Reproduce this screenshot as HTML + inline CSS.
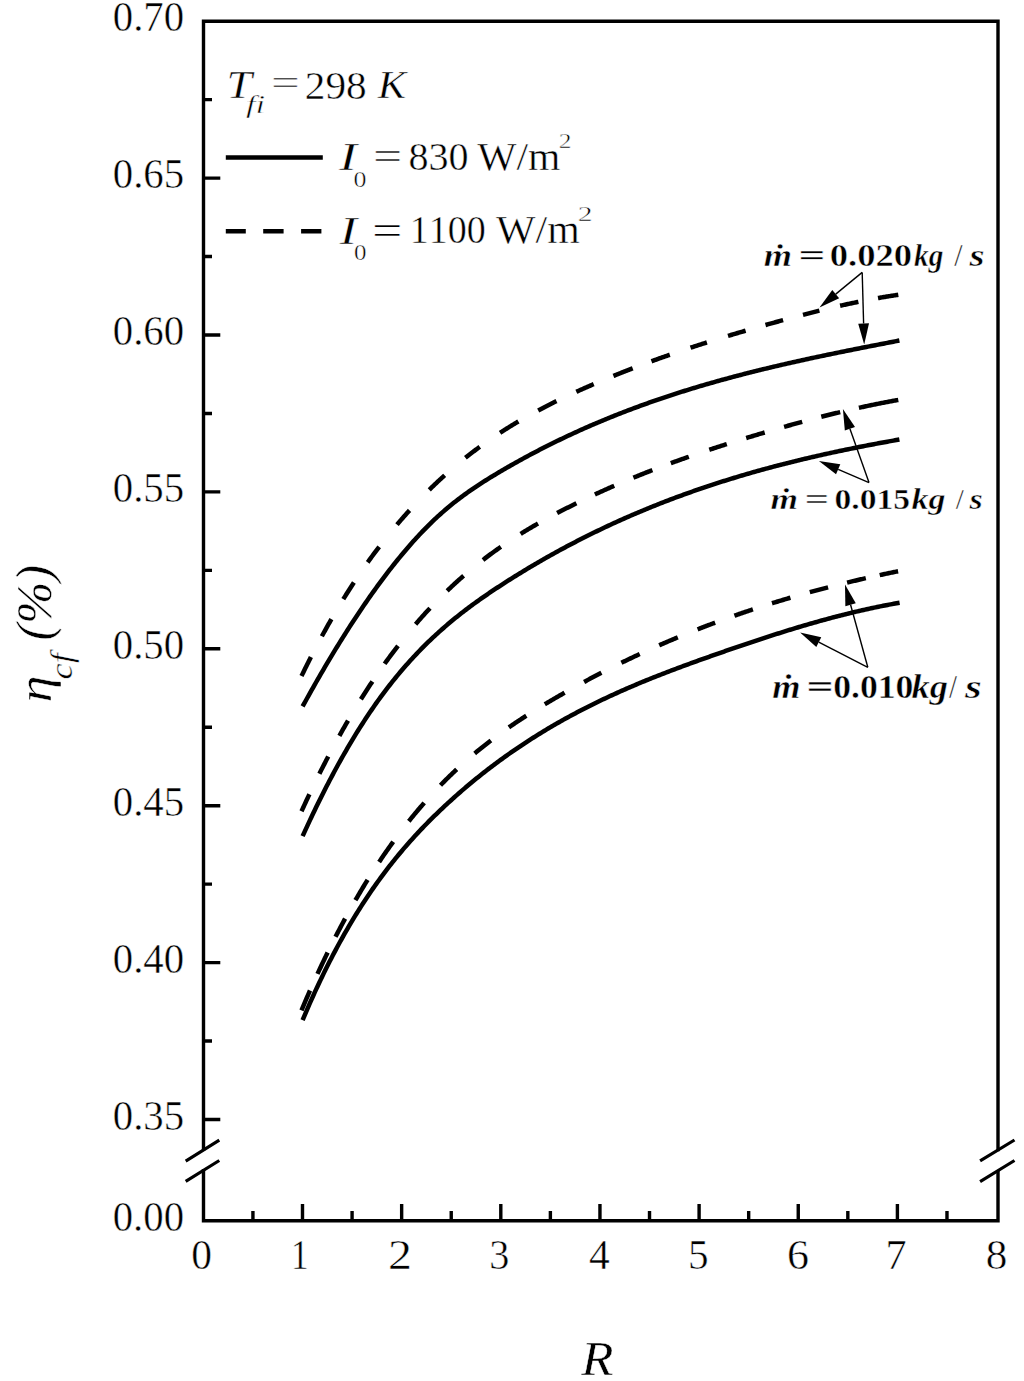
<!DOCTYPE html>
<html><head><meta charset="utf-8"><style>
html,body{margin:0;padding:0;background:#fff;}
svg{display:block;}
text{font-family:"Liberation Serif",serif;fill:#000;font-kerning:none;stroke:#fff;stroke-width:0.45px;}
.t40{font-size:40px;}
.ttl{font-size:49px;}
.ann{font-size:33px;font-weight:bold;}
.ax{fill:none;stroke:#000;stroke-width:3.4;stroke-linecap:square;}
.tk{fill:none;stroke:#000;stroke-width:3.4;}
.br{fill:none;stroke:#000;stroke-width:3.2;}
.c{fill:none;stroke:#000;stroke-width:4.5;stroke-linejoin:round;}
.thin{fill:none;stroke:#000;stroke-width:1.4;}
.ah{fill:#000;stroke:none;}
</style></head><body>
<svg width="1024" height="1381" viewBox="0 0 1024 1381">
<rect width="1024" height="1381" fill="#fff"/>
<path class="ax" d="M203.5,1149 L203.5,21.2 L998.0,21.2 L998.0,1149.6"/>
<path class="ax" d="M203.5,1170.8 L203.5,1220.7 L998.0,1220.7 L998.0,1172"/>
<path class="br" d="M185.7,1161.1 L219.3,1140.1 M185.7,1181.4 L219.3,1160.5 M980.1,1160.9 L1014.5,1140 M980.1,1181.7 L1014.5,1160.5"/>
<path class="tk" d="M203.5,99.65 L212,99.65 M203.5,178.10 L220.3,178.10 M203.5,256.55 L212,256.55 M203.5,335.00 L220.3,335.00 M203.5,413.45 L212,413.45 M203.5,491.90 L220.3,491.90 M203.5,570.35 L212,570.35 M203.5,648.80 L220.3,648.80 M203.5,727.25 L212,727.25 M203.5,805.70 L220.3,805.70 M203.5,884.15 L212,884.15 M203.5,962.60 L220.3,962.60 M203.5,1041.05 L212,1041.05 M203.5,1119.50 L220.3,1119.50 M302.50,1220.7 L302.50,1204 M401.65,1220.7 L401.65,1204 M500.80,1220.7 L500.80,1204 M599.95,1220.7 L599.95,1204 M699.10,1220.7 L699.10,1204 M798.25,1220.7 L798.25,1204 M897.40,1220.7 L897.40,1204 M252.93,1220.7 L252.93,1211 M352.08,1220.7 L352.08,1211 M451.23,1220.7 L451.23,1211 M550.38,1220.7 L550.38,1211 M649.52,1220.7 L649.52,1211 M748.68,1220.7 L748.68,1211 M847.83,1220.7 L847.83,1211 M946.98,1220.7 L946.98,1211"/>
<text x="112.75" y="0" transform="translate(0,31.30) scale(1,1.02)" font-size="40.80" textLength="71.41" lengthAdjust="spacingAndGlyphs">0.70</text>
<text x="112.75" y="0" transform="translate(0,188.20) scale(1,1.02)" font-size="40.80" textLength="71.45" lengthAdjust="spacingAndGlyphs">0.65</text>
<text x="112.75" y="0" transform="translate(0,345.10) scale(1,1.02)" font-size="40.80" textLength="71.41" lengthAdjust="spacingAndGlyphs">0.60</text>
<text x="112.75" y="0" transform="translate(0,502.00) scale(1,1.02)" font-size="40.80" textLength="71.45" lengthAdjust="spacingAndGlyphs">0.55</text>
<text x="112.75" y="0" transform="translate(0,658.90) scale(1,1.02)" font-size="40.80" textLength="71.41" lengthAdjust="spacingAndGlyphs">0.50</text>
<text x="112.75" y="0" transform="translate(0,815.80) scale(1,1.02)" font-size="40.80" textLength="71.45" lengthAdjust="spacingAndGlyphs">0.45</text>
<text x="112.75" y="0" transform="translate(0,972.70) scale(1,1.02)" font-size="40.80" textLength="71.41" lengthAdjust="spacingAndGlyphs">0.40</text>
<text x="112.75" y="0" transform="translate(0,1129.60) scale(1,1.02)" font-size="40.80" textLength="71.45" lengthAdjust="spacingAndGlyphs">0.35</text>
<text x="112.75" y="0" transform="translate(0,1230.90) scale(1,1.02)" font-size="40.80" textLength="71.30" lengthAdjust="spacingAndGlyphs">0.00</text>
<text x="191.32" y="0" transform="translate(0,1268.60) scale(1,1.05)" font-size="40.40" textLength="20.76" lengthAdjust="spacingAndGlyphs">0</text>
<text x="291.10" y="0" transform="translate(0,1268.60) scale(1,1.05)" font-size="40.40" textLength="17.61" lengthAdjust="spacingAndGlyphs">1</text>
<text x="387.90" y="0" transform="translate(0,1268.60) scale(1,1.05)" font-size="40.40" textLength="23.95" lengthAdjust="spacingAndGlyphs">2</text>
<text x="489.28" y="0" transform="translate(0,1268.60) scale(1,1.05)" font-size="40.40" textLength="20.09" lengthAdjust="spacingAndGlyphs">3</text>
<text x="588.99" y="0" transform="translate(0,1268.60) scale(1,1.05)" font-size="40.40" textLength="20.76" lengthAdjust="spacingAndGlyphs">4</text>
<text x="688.01" y="0" transform="translate(0,1268.60) scale(1,1.05)" font-size="40.40" textLength="20.60" lengthAdjust="spacingAndGlyphs">5</text>
<text x="787.11" y="0" transform="translate(0,1268.60) scale(1,1.05)" font-size="40.40" textLength="22.00" lengthAdjust="spacingAndGlyphs">6</text>
<text x="885.62" y="0" transform="translate(0,1268.60) scale(1,1.05)" font-size="40.40" textLength="21.10" lengthAdjust="spacingAndGlyphs">7</text>
<text x="985.66" y="0" transform="translate(0,1268.60) scale(1,1.05)" font-size="40.40" textLength="21.59" lengthAdjust="spacingAndGlyphs">8</text>
<text x="581.28" y="1375.20" font-size="49.50" font-style="italic" textLength="32.29" lengthAdjust="spacingAndGlyphs">R</text>
<g transform="translate(51.4,720.0) rotate(-90)"><text x="17.46" y="0.00" font-size="49.00" font-style="italic" textLength="27.00" lengthAdjust="spacingAndGlyphs">η</text><text x="40.58" y="20.20" font-size="31.40" font-style="italic" textLength="26.23" lengthAdjust="spacingAndGlyphs">cf</text><text x="79.53" y="0.00" font-size="50.90" font-style="italic" textLength="75.52" lengthAdjust="spacingAndGlyphs">(%)</text></g>
<text x="226.61" y="98.00" font-size="40.50" font-style="italic" textLength="25.39" lengthAdjust="spacingAndGlyphs">T</text>
<text x="245.91" y="113.30" font-size="24.30" font-style="italic" textLength="19.13" lengthAdjust="spacingAndGlyphs">fi</text>
<text x="271.05" y="95.40" font-size="36.80" textLength="28.84" lengthAdjust="spacingAndGlyphs" stroke="none">=</text>
<text x="304.79" y="98.60" font-size="40.70" textLength="61.88" lengthAdjust="spacingAndGlyphs">298</text>
<text x="377.70" y="98.00" font-size="40.50" font-style="italic" textLength="28.28" lengthAdjust="spacingAndGlyphs">K</text>
<path class="c" d="M225.8,157.4 L322.8,157.4"/>
<path class="c" d="M225.8,231.3 L245.8,231.3 M263.2,231.3 L283.6,231.3 M301.1,231.3 L321.4,231.3"/>
<text x="339.11" y="170.10" font-size="39.80" font-style="italic" textLength="17.98" lengthAdjust="spacingAndGlyphs">I</text>
<text x="353.61" y="186.90" font-size="22.50" textLength="12.98" lengthAdjust="spacingAndGlyphs">0</text>
<text x="373.12" y="170.10" font-size="40.40" textLength="29.21" lengthAdjust="spacingAndGlyphs" stroke="none">=</text>
<text x="408.47" y="170.20" font-size="39.40" textLength="60.15" lengthAdjust="spacingAndGlyphs">830</text>
<text x="477.26" y="170.20" font-size="39.40" textLength="83.19" lengthAdjust="spacingAndGlyphs">W/m</text>
<text x="558.68" y="147.80" font-size="21.10" textLength="12.72" lengthAdjust="spacingAndGlyphs">2</text>
<text x="339.41" y="243.50" font-size="40.30" font-style="italic" textLength="17.54" lengthAdjust="spacingAndGlyphs">I</text>
<text x="354.05" y="260.40" font-size="23.40" textLength="12.51" lengthAdjust="spacingAndGlyphs">0</text>
<text x="372.11" y="244.40" font-size="42.40" textLength="30.42" lengthAdjust="spacingAndGlyphs" stroke="none">=</text>
<text x="409.66" y="243.40" font-size="39.10" textLength="75.99" lengthAdjust="spacingAndGlyphs">1100</text>
<text x="496.06" y="243.40" font-size="39.10" textLength="83.69" lengthAdjust="spacingAndGlyphs">W/m</text>
<text x="577.80" y="221.10" font-size="21.90" textLength="14.84" lengthAdjust="spacingAndGlyphs">2</text>
<path d="M302.60,706.43 L304.10,703.70 L305.60,700.97 L307.10,698.26 L308.60,695.56 L310.10,692.87 L311.60,690.20 L313.10,687.54 L314.60,684.89 L316.10,682.25 L317.59,679.63 L319.09,677.02 L320.59,674.43 L322.09,671.84 L323.59,669.27 L325.09,666.72 L326.59,664.17 L328.09,661.64 L329.59,659.13 L331.09,656.62 L332.59,654.13 L334.09,651.66 L335.59,649.19 L337.09,646.74 L338.59,644.31 L340.09,641.89 L341.59,639.48 L343.09,637.08 L344.59,634.70 L346.09,632.34 L347.58,629.99 L349.08,627.65 L350.58,625.32 L352.08,623.01 L353.58,620.71 L355.08,618.43 L356.58,616.16 L358.08,613.91 L359.58,611.67 L361.08,609.45 L362.58,607.24 L364.08,605.04 L365.58,602.86 L367.08,600.69 L368.58,598.54 L370.08,596.40 L371.58,594.28 L373.08,592.17 L374.58,590.08 L376.08,588.00 L377.57,585.93 L379.07,583.89 L380.57,581.85 L382.07,579.83 L383.57,577.83 L385.07,575.84 L386.57,573.87 L388.07,571.91 L389.57,569.97 L391.07,568.04 L392.57,566.13 L394.07,564.24 L395.57,562.36 L397.07,560.50 L398.57,558.65 L400.07,556.82 L401.57,555.01 L403.07,553.21 L404.57,551.43 L406.07,549.67 L407.56,547.93 L409.06,546.20 L410.56,544.48 L412.06,542.79 L413.56,541.11 L415.06,539.45 L416.56,537.81 L418.06,536.18 L419.56,534.57 L421.06,532.98 L422.56,531.41 L424.06,529.86 L425.56,528.32 L427.06,526.80 L428.56,525.30 L430.06,523.82 L431.56,522.36 L433.06,520.91 L434.56,519.48 L436.06,518.08 L437.55,516.69 L439.05,515.32 L440.55,513.97 L442.05,512.64 L443.55,511.32 L445.05,510.03 L446.55,508.75 L448.05,507.49 L449.55,506.24 L451.05,505.02 L452.55,503.80 L454.05,502.61 L455.55,501.43 L457.05,500.26 L458.55,499.11 L460.05,497.98 L461.55,496.86 L463.05,495.75 L464.55,494.65 L466.05,493.57 L467.54,492.50 L469.04,491.44 L470.54,490.40 L472.04,489.36 L473.54,488.34 L475.04,487.33 L476.54,486.32 L478.04,485.33 L479.54,484.35 L481.04,483.38 L482.54,482.41 L484.04,481.46 L485.54,480.51 L487.04,479.57 L488.54,478.64 L490.04,477.71 L491.54,476.79 L493.04,475.88 L494.54,474.98 L496.04,474.08 L497.53,473.18 L499.03,472.29 L500.53,471.41 L502.03,470.52 L503.53,469.65 L505.03,468.78 L506.53,467.91 L508.03,467.04 L509.53,466.18 L511.03,465.33 L512.53,464.48 L514.03,463.63 L515.53,462.79 L517.03,461.95 L518.53,461.12 L520.03,460.29 L521.53,459.46 L523.03,458.64 L524.53,457.82 L526.03,457.01 L527.52,456.20 L529.02,455.39 L530.52,454.59 L532.02,453.79 L533.52,453.00 L535.02,452.21 L536.52,451.43 L538.02,450.65 L539.52,449.87 L541.02,449.10 L542.52,448.33 L544.02,447.56 L545.52,446.80 L547.02,446.04 L548.52,445.29 L550.02,444.54 L551.52,443.79 L553.02,443.05 L554.52,442.31 L556.02,441.58 L557.51,440.84 L559.01,440.12 L560.51,439.39 L562.01,438.67 L563.51,437.96 L565.01,437.24 L566.51,436.54 L568.01,435.83 L569.51,435.13 L571.01,434.43 L572.51,433.74 L574.01,433.05 L575.51,432.36 L577.01,431.68 L578.51,431.00 L580.01,430.32 L581.51,429.65 L583.01,428.98 L584.51,428.31 L586.01,427.65 L587.50,426.99 L589.00,426.33 L590.50,425.68 L592.00,425.03 L593.50,424.39 L595.00,423.74 L596.50,423.11 L598.00,422.47 L599.50,421.84 L601.00,421.21 L602.50,420.58 L604.00,419.96 L605.50,419.34 L607.00,418.73 L608.50,418.11 L610.00,417.51 L611.50,416.90 L613.00,416.30 L614.50,415.70 L615.99,415.10 L617.49,414.51 L618.99,413.92 L620.49,413.33 L621.99,412.74 L623.49,412.16 L624.99,411.58 L626.49,411.01 L627.99,410.44 L629.49,409.87 L630.99,409.30 L632.49,408.74 L633.99,408.18 L635.49,407.62 L636.99,407.07 L638.49,406.52 L639.99,405.97 L641.49,405.42 L642.99,404.88 L644.49,404.34 L645.98,403.80 L647.48,403.27 L648.98,402.74 L650.48,402.21 L651.98,401.68 L653.48,401.16 L654.98,400.64 L656.48,400.12 L657.98,399.60 L659.48,399.09 L660.98,398.58 L662.48,398.07 L663.98,397.57 L665.48,397.07 L666.98,396.57 L668.48,396.07 L669.98,395.58 L671.48,395.09 L672.98,394.60 L674.48,394.11 L675.97,393.63 L677.47,393.15 L678.97,392.67 L680.47,392.19 L681.97,391.72 L683.47,391.24 L684.97,390.77 L686.47,390.31 L687.97,389.84 L689.47,389.38 L690.97,388.92 L692.47,388.46 L693.97,388.01 L695.47,387.56 L696.97,387.10 L698.47,386.66 L699.97,386.21 L701.47,385.77 L702.97,385.32 L704.47,384.89 L705.96,384.45 L707.46,384.01 L708.96,383.58 L710.46,383.15 L711.96,382.72 L713.46,382.29 L714.96,381.87 L716.46,381.45 L717.96,381.03 L719.46,380.61 L720.96,380.19 L722.46,379.78 L723.96,379.37 L725.46,378.96 L726.96,378.55 L728.46,378.14 L729.96,377.74 L731.46,377.33 L732.96,376.93 L734.46,376.53 L735.95,376.14 L737.45,375.74 L738.95,375.35 L740.45,374.96 L741.95,374.57 L743.45,374.18 L744.95,373.79 L746.45,373.41 L747.95,373.03 L749.45,372.65 L750.95,372.27 L752.45,371.89 L753.95,371.51 L755.45,371.14 L756.95,370.77 L758.45,370.40 L759.95,370.03 L761.45,369.66 L762.95,369.29 L764.45,368.93 L765.94,368.57 L767.44,368.20 L768.94,367.85 L770.44,367.49 L771.94,367.13 L773.44,366.77 L774.94,366.42 L776.44,366.07 L777.94,365.72 L779.44,365.37 L780.94,365.02 L782.44,364.67 L783.94,364.33 L785.44,363.98 L786.94,363.64 L788.44,363.30 L789.94,362.96 L791.44,362.62 L792.94,362.28 L794.44,361.94 L795.93,361.61 L797.43,361.27 L798.93,360.94 L800.43,360.61 L801.93,360.28 L803.43,359.95 L804.93,359.62 L806.43,359.29 L807.93,358.97 L809.43,358.64 L810.93,358.32 L812.43,358.00 L813.93,357.67 L815.43,357.35 L816.93,357.03 L818.43,356.72 L819.93,356.40 L821.43,356.08 L822.93,355.77 L824.43,355.45 L825.92,355.14 L827.42,354.82 L828.92,354.51 L830.42,354.20 L831.92,353.89 L833.42,353.58 L834.92,353.27 L836.42,352.96 L837.92,352.65 L839.42,352.35 L840.92,352.04 L842.42,351.74 L843.92,351.43 L845.42,351.13 L846.92,350.83 L848.42,350.52 L849.92,350.22 L851.42,349.92 L852.92,349.62 L854.42,349.32 L855.91,349.02 L857.41,348.72 L858.91,348.42 L860.41,348.13 L861.91,347.83 L863.41,347.53 L864.91,347.24 L866.41,346.94 L867.91,346.65 L869.41,346.35 L870.91,346.06 L872.41,345.76 L873.91,345.47 L875.41,345.18 L876.91,344.89 L878.41,344.59 L879.91,344.30 L881.41,344.01 L882.91,343.72 L884.41,343.43 L885.90,343.14 L887.40,342.85 L888.90,342.56 L890.40,342.27 L891.90,341.98 L893.40,341.69 L894.90,341.40 L896.40,341.11 L897.90,340.82 L899.40,340.53" class="c"/>
<path d="M302.60,836.19 L304.10,832.89 L305.60,829.60 L307.10,826.35 L308.60,823.12 L310.10,819.91 L311.60,816.73 L313.10,813.58 L314.60,810.45 L316.10,807.34 L317.59,804.27 L319.09,801.21 L320.59,798.18 L322.09,795.18 L323.59,792.20 L325.09,789.25 L326.59,786.32 L328.09,783.42 L329.59,780.54 L331.09,777.69 L332.59,774.86 L334.09,772.06 L335.59,769.28 L337.09,766.52 L338.59,763.79 L340.09,761.09 L341.59,758.41 L343.09,755.75 L344.59,753.12 L346.09,750.51 L347.58,747.93 L349.08,745.37 L350.58,742.83 L352.08,740.32 L353.58,737.84 L355.08,735.38 L356.58,732.94 L358.08,730.52 L359.58,728.13 L361.08,725.77 L362.58,723.43 L364.08,721.11 L365.58,718.81 L367.08,716.54 L368.58,714.29 L370.08,712.07 L371.58,709.87 L373.08,707.69 L374.58,705.54 L376.08,703.41 L377.57,701.30 L379.07,699.22 L380.57,697.16 L382.07,695.12 L383.57,693.10 L385.07,691.10 L386.57,689.13 L388.07,687.18 L389.57,685.25 L391.07,683.34 L392.57,681.45 L394.07,679.58 L395.57,677.73 L397.07,675.90 L398.57,674.09 L400.07,672.30 L401.57,670.53 L403.07,668.78 L404.57,667.05 L406.07,665.33 L407.56,663.64 L409.06,661.96 L410.56,660.30 L412.06,658.66 L413.56,657.04 L415.06,655.43 L416.56,653.84 L418.06,652.27 L419.56,650.72 L421.06,649.18 L422.56,647.66 L424.06,646.15 L425.56,644.66 L427.06,643.19 L428.56,641.73 L430.06,640.29 L431.56,638.86 L433.06,637.44 L434.56,636.05 L436.06,634.66 L437.55,633.29 L439.05,631.93 L440.55,630.59 L442.05,629.26 L443.55,627.94 L445.05,626.64 L446.55,625.35 L448.05,624.07 L449.55,622.81 L451.05,621.55 L452.55,620.31 L454.05,619.08 L455.55,617.86 L457.05,616.65 L458.55,615.46 L460.05,614.27 L461.55,613.10 L463.05,611.93 L464.55,610.78 L466.05,609.63 L467.54,608.50 L469.04,607.37 L470.54,606.26 L472.04,605.15 L473.54,604.05 L475.04,602.96 L476.54,601.88 L478.04,600.81 L479.54,599.74 L481.04,598.68 L482.54,597.63 L484.04,596.59 L485.54,595.56 L487.04,594.53 L488.54,593.50 L490.04,592.49 L491.54,591.48 L493.04,590.48 L494.54,589.48 L496.04,588.48 L497.53,587.50 L499.03,586.52 L500.53,585.54 L502.03,584.57 L503.53,583.60 L505.03,582.63 L506.53,581.67 L508.03,580.72 L509.53,579.77 L511.03,578.82 L512.53,577.88 L514.03,576.94 L515.53,576.00 L517.03,575.07 L518.53,574.15 L520.03,573.22 L521.53,572.31 L523.03,571.39 L524.53,570.48 L526.03,569.58 L527.52,568.67 L529.02,567.78 L530.52,566.88 L532.02,565.99 L533.52,565.11 L535.02,564.22 L536.52,563.35 L538.02,562.47 L539.52,561.60 L541.02,560.74 L542.52,559.87 L544.02,559.02 L545.52,558.16 L547.02,557.31 L548.52,556.47 L550.02,555.62 L551.52,554.78 L553.02,553.95 L554.52,553.12 L556.02,552.29 L557.51,551.47 L559.01,550.65 L560.51,549.83 L562.01,549.02 L563.51,548.21 L565.01,547.41 L566.51,546.61 L568.01,545.81 L569.51,545.02 L571.01,544.23 L572.51,543.44 L574.01,542.66 L575.51,541.88 L577.01,541.11 L578.51,540.33 L580.01,539.57 L581.51,538.80 L583.01,538.04 L584.51,537.29 L586.01,536.53 L587.50,535.78 L589.00,535.04 L590.50,534.30 L592.00,533.56 L593.50,532.82 L595.00,532.09 L596.50,531.36 L598.00,530.64 L599.50,529.91 L601.00,529.20 L602.50,528.48 L604.00,527.77 L605.50,527.06 L607.00,526.36 L608.50,525.66 L610.00,524.96 L611.50,524.27 L613.00,523.58 L614.50,522.89 L615.99,522.21 L617.49,521.53 L618.99,520.85 L620.49,520.17 L621.99,519.50 L623.49,518.84 L624.99,518.17 L626.49,517.51 L627.99,516.86 L629.49,516.20 L630.99,515.55 L632.49,514.90 L633.99,514.26 L635.49,513.62 L636.99,512.98 L638.49,512.34 L639.99,511.71 L641.49,511.08 L642.99,510.46 L644.49,509.83 L645.98,509.22 L647.48,508.60 L648.98,507.99 L650.48,507.38 L651.98,506.77 L653.48,506.17 L654.98,505.56 L656.48,504.97 L657.98,504.37 L659.48,503.78 L660.98,503.19 L662.48,502.61 L663.98,502.02 L665.48,501.44 L666.98,500.87 L668.48,500.29 L669.98,499.72 L671.48,499.15 L672.98,498.59 L674.48,498.02 L675.97,497.47 L677.47,496.91 L678.97,496.35 L680.47,495.80 L681.97,495.26 L683.47,494.71 L684.97,494.17 L686.47,493.63 L687.97,493.09 L689.47,492.56 L690.97,492.03 L692.47,491.50 L693.97,490.97 L695.47,490.45 L696.97,489.93 L698.47,489.41 L699.97,488.89 L701.47,488.38 L702.97,487.87 L704.47,487.36 L705.96,486.86 L707.46,486.36 L708.96,485.86 L710.46,485.36 L711.96,484.87 L713.46,484.38 L714.96,483.89 L716.46,483.40 L717.96,482.92 L719.46,482.44 L720.96,481.96 L722.46,481.48 L723.96,481.01 L725.46,480.54 L726.96,480.07 L728.46,479.60 L729.96,479.14 L731.46,478.67 L732.96,478.22 L734.46,477.76 L735.95,477.30 L737.45,476.85 L738.95,476.40 L740.45,475.96 L741.95,475.51 L743.45,475.07 L744.95,474.63 L746.45,474.19 L747.95,473.76 L749.45,473.32 L750.95,472.89 L752.45,472.46 L753.95,472.04 L755.45,471.61 L756.95,471.19 L758.45,470.77 L759.95,470.35 L761.45,469.94 L762.95,469.52 L764.45,469.11 L765.94,468.70 L767.44,468.30 L768.94,467.89 L770.44,467.49 L771.94,467.09 L773.44,466.69 L774.94,466.30 L776.44,465.90 L777.94,465.51 L779.44,465.12 L780.94,464.73 L782.44,464.35 L783.94,463.96 L785.44,463.58 L786.94,463.20 L788.44,462.82 L789.94,462.45 L791.44,462.07 L792.94,461.70 L794.44,461.33 L795.93,460.96 L797.43,460.60 L798.93,460.23 L800.43,459.87 L801.93,459.51 L803.43,459.15 L804.93,458.79 L806.43,458.44 L807.93,458.09 L809.43,457.73 L810.93,457.39 L812.43,457.04 L813.93,456.69 L815.43,456.35 L816.93,456.00 L818.43,455.66 L819.93,455.32 L821.43,454.99 L822.93,454.65 L824.43,454.32 L825.92,453.99 L827.42,453.66 L828.92,453.33 L830.42,453.00 L831.92,452.67 L833.42,452.35 L834.92,452.03 L836.42,451.71 L837.92,451.39 L839.42,451.07 L840.92,450.75 L842.42,450.44 L843.92,450.13 L845.42,449.82 L846.92,449.51 L848.42,449.20 L849.92,448.89 L851.42,448.59 L852.92,448.28 L854.42,447.98 L855.91,447.68 L857.41,447.38 L858.91,447.08 L860.41,446.78 L861.91,446.49 L863.41,446.19 L864.91,445.90 L866.41,445.61 L867.91,445.32 L869.41,445.03 L870.91,444.74 L872.41,444.46 L873.91,444.17 L875.41,443.89 L876.91,443.61 L878.41,443.33 L879.91,443.05 L881.41,442.77 L882.91,442.49 L884.41,442.22 L885.90,441.94 L887.40,441.67 L888.90,441.40 L890.40,441.13 L891.90,440.86 L893.40,440.59 L894.90,440.32 L896.40,440.05 L897.90,439.79 L899.40,439.52" class="c"/>
<path d="M302.60,1020.12 L304.10,1016.56 L305.60,1013.04 L307.10,1009.55 L308.60,1006.11 L310.10,1002.70 L311.60,999.33 L313.10,995.99 L314.60,992.69 L316.10,989.43 L317.60,986.20 L319.10,983.01 L320.60,979.85 L322.10,976.72 L323.60,973.63 L325.10,970.57 L326.60,967.55 L328.10,964.56 L329.60,961.60 L331.10,958.68 L332.60,955.78 L334.10,952.92 L335.60,950.09 L337.10,947.29 L338.60,944.51 L340.10,941.77 L341.60,939.06 L343.10,936.38 L344.60,933.73 L346.10,931.11 L347.60,928.51 L349.10,925.94 L350.60,923.40 L352.10,920.89 L353.60,918.41 L355.10,915.95 L356.60,913.52 L358.10,911.11 L359.60,908.73 L361.10,906.37 L362.60,904.04 L364.10,901.74 L365.60,899.45 L367.10,897.20 L368.60,894.96 L370.10,892.75 L371.60,890.56 L373.10,888.39 L374.60,886.25 L376.10,884.13 L377.60,882.03 L379.10,879.95 L380.60,877.89 L382.10,875.86 L383.60,873.84 L385.10,871.85 L386.60,869.88 L388.10,867.92 L389.60,865.99 L391.10,864.07 L392.60,862.18 L394.10,860.30 L395.60,858.44 L397.10,856.60 L398.60,854.78 L400.10,852.97 L401.60,851.19 L403.10,849.42 L404.60,847.66 L406.10,845.93 L407.60,844.21 L409.10,842.50 L410.60,840.81 L412.10,839.14 L413.60,837.48 L415.10,835.84 L416.60,834.21 L418.10,832.60 L419.60,831.00 L421.10,829.42 L422.60,827.84 L424.10,826.29 L425.60,824.74 L427.10,823.21 L428.60,821.69 L430.10,820.18 L431.60,818.69 L433.10,817.20 L434.60,815.73 L436.10,814.27 L437.60,812.82 L439.10,811.38 L440.60,809.95 L442.10,808.53 L443.60,807.12 L445.10,805.72 L446.60,804.33 L448.10,802.95 L449.60,801.57 L451.10,800.21 L452.60,798.85 L454.10,797.51 L455.60,796.17 L457.10,794.85 L458.60,793.53 L460.10,792.22 L461.60,790.91 L463.10,789.62 L464.60,788.34 L466.10,787.06 L467.60,785.79 L469.10,784.54 L470.60,783.29 L472.10,782.04 L473.60,780.81 L475.10,779.58 L476.60,778.36 L478.10,777.15 L479.60,775.95 L481.10,774.76 L482.60,773.57 L484.10,772.39 L485.60,771.22 L487.10,770.06 L488.60,768.90 L490.10,767.75 L491.60,766.61 L493.10,765.48 L494.60,764.35 L496.10,763.23 L497.60,762.12 L499.10,761.01 L500.60,759.92 L502.10,758.83 L503.60,757.74 L505.10,756.67 L506.60,755.60 L508.10,754.53 L509.60,753.48 L511.10,752.43 L512.60,751.39 L514.10,750.35 L515.60,749.32 L517.10,748.30 L518.60,747.28 L520.10,746.27 L521.60,745.27 L523.10,744.27 L524.60,743.28 L526.10,742.30 L527.60,741.32 L529.10,740.35 L530.60,739.39 L532.10,738.43 L533.60,737.48 L535.10,736.53 L536.60,735.59 L538.10,734.66 L539.60,733.73 L541.10,732.81 L542.60,731.89 L544.10,730.98 L545.60,730.08 L547.10,729.18 L548.60,728.28 L550.10,727.40 L551.60,726.51 L553.10,725.64 L554.60,724.77 L556.10,723.90 L557.60,723.04 L559.10,722.19 L560.60,721.34 L562.10,720.50 L563.60,719.66 L565.10,718.83 L566.60,718.00 L568.10,717.18 L569.60,716.36 L571.10,715.55 L572.60,714.74 L574.10,713.94 L575.60,713.14 L577.10,712.35 L578.60,711.56 L580.10,710.78 L581.60,710.00 L583.10,709.23 L584.60,708.46 L586.10,707.69 L587.60,706.93 L589.10,706.18 L590.60,705.43 L592.10,704.68 L593.60,703.94 L595.10,703.21 L596.60,702.47 L598.10,701.74 L599.60,701.02 L601.10,700.30 L602.60,699.58 L604.10,698.87 L605.60,698.17 L607.10,697.46 L608.60,696.76 L610.10,696.07 L611.60,695.38 L613.10,694.69 L614.60,694.01 L616.10,693.33 L617.60,692.65 L619.10,691.98 L620.60,691.31 L622.10,690.64 L623.60,689.98 L625.10,689.32 L626.60,688.67 L628.10,688.02 L629.60,687.37 L631.10,686.72 L632.60,686.08 L634.10,685.45 L635.60,684.81 L637.10,684.18 L638.60,683.55 L640.10,682.93 L641.60,682.30 L643.10,681.68 L644.60,681.07 L646.10,680.45 L647.60,679.84 L649.10,679.24 L650.60,678.63 L652.10,678.03 L653.60,677.43 L655.10,676.83 L656.60,676.24 L658.10,675.65 L659.60,675.06 L661.10,674.47 L662.60,673.89 L664.10,673.31 L665.60,672.73 L667.10,672.15 L668.60,671.57 L670.10,671.00 L671.60,670.43 L673.10,669.86 L674.60,669.30 L676.10,668.73 L677.60,668.17 L679.10,667.61 L680.60,667.05 L682.10,666.50 L683.60,665.94 L685.10,665.39 L686.60,664.84 L688.10,664.29 L689.60,663.74 L691.10,663.20 L692.60,662.65 L694.10,662.11 L695.60,661.57 L697.10,661.03 L698.60,660.49 L700.10,659.95 L701.60,659.42 L703.10,658.88 L704.60,658.35 L706.10,657.82 L707.60,657.29 L709.10,656.76 L710.60,656.23 L712.10,655.70 L713.60,655.17 L715.10,654.65 L716.60,654.12 L718.10,653.60 L719.60,653.08 L721.10,652.55 L722.60,652.03 L724.10,651.51 L725.60,650.99 L727.10,650.47 L728.60,649.95 L730.10,649.44 L731.60,648.92 L733.10,648.40 L734.60,647.89 L736.10,647.38 L737.60,646.86 L739.10,646.35 L740.60,645.84 L742.10,645.33 L743.60,644.82 L745.10,644.32 L746.60,643.81 L748.10,643.31 L749.60,642.80 L751.10,642.30 L752.60,641.80 L754.10,641.30 L755.60,640.80 L757.10,640.30 L758.60,639.81 L760.10,639.31 L761.60,638.82 L763.10,638.33 L764.60,637.84 L766.10,637.35 L767.60,636.86 L769.10,636.38 L770.60,635.89 L772.10,635.41 L773.60,634.93 L775.10,634.45 L776.60,633.97 L778.10,633.50 L779.60,633.02 L781.10,632.55 L782.60,632.08 L784.10,631.61 L785.60,631.14 L787.10,630.68 L788.60,630.22 L790.10,629.75 L791.60,629.29 L793.10,628.84 L794.60,628.38 L796.10,627.93 L797.60,627.48 L799.10,627.03 L800.60,626.58 L802.10,626.13 L803.60,625.69 L805.10,625.25 L806.60,624.81 L808.10,624.37 L809.60,623.94 L811.10,623.50 L812.60,623.07 L814.10,622.64 L815.60,622.22 L817.10,621.79 L818.60,621.37 L820.10,620.95 L821.60,620.54 L823.10,620.12 L824.60,619.71 L826.10,619.30 L827.60,618.90 L829.10,618.49 L830.60,618.09 L832.10,617.69 L833.60,617.29 L835.10,616.90 L836.60,616.51 L838.10,616.12 L839.60,615.73 L841.10,615.35 L842.60,614.97 L844.10,614.59 L845.60,614.22 L847.10,613.85 L848.60,613.48 L850.10,613.11 L851.60,612.75 L853.10,612.39 L854.60,612.03 L856.10,611.67 L857.60,611.32 L859.10,610.97 L860.60,610.63 L862.10,610.28 L863.60,609.94 L865.10,609.61 L866.60,609.27 L868.10,608.94 L869.60,608.62 L871.10,608.29 L872.60,607.97 L874.10,607.65 L875.60,607.34 L877.10,607.03 L878.60,606.72 L880.10,606.41 L881.60,606.11 L883.10,605.82 L884.60,605.52 L886.10,605.23 L887.60,604.94 L889.10,604.66 L890.60,604.38 L892.10,604.10 L893.60,603.83 L895.10,603.56 L896.60,603.29 L898.10,603.03 L899.60,602.77" class="c"/>
<path d="M301.50,676.05 L302.44,674.11 L303.38,672.18 L304.32,670.26 L305.26,668.34 L306.20,666.44 L307.14,664.55 L308.08,662.67 L309.02,660.80 L309.96,658.94 L310.90,657.09 M321.85,636.28 L322.81,634.52 L323.76,632.78 L324.72,631.05 L325.67,629.32 L326.62,627.61 L327.58,625.90 L328.53,624.21 L329.49,622.52 L330.44,620.85 L331.40,619.18 M343.30,599.18 L344.26,597.63 L345.23,596.08 L346.19,594.54 L347.15,593.00 L348.12,591.48 L349.08,589.97 L350.05,588.46 L351.01,586.97 L351.97,585.48 L352.94,584.00 L353.90,582.53 M367.70,562.36 L368.66,561.02 L369.62,559.69 L370.58,558.36 L371.53,557.04 L372.49,555.73 L373.45,554.43 L374.41,553.14 L375.37,551.85 L376.32,550.57 L377.28,549.29 L378.24,548.03 L379.20,546.77 M397.00,524.62 L397.96,523.49 L398.92,522.36 L399.88,521.24 L400.85,520.13 L401.81,519.02 L402.77,517.92 L403.73,516.82 L404.69,515.73 L405.65,514.65 L406.62,513.57 L407.58,512.50 L408.54,511.43 L409.50,510.37 M429.30,489.77 L430.26,488.83 L431.23,487.89 L432.19,486.96 L433.15,486.03 L434.11,485.11 L435.07,484.19 L436.04,483.28 L437.00,482.37 L437.96,481.47 L438.93,480.58 L439.89,479.68 L440.85,478.80 L441.81,477.92 L442.77,477.04 L443.74,476.17 L444.70,475.30 M465.40,457.79 L466.36,457.03 L467.32,456.27 L468.28,455.52 L469.24,454.77 L470.20,454.03 L471.16,453.29 L472.12,452.55 L473.08,451.82 L474.04,451.09 L475.00,450.37 L475.96,449.65 L476.92,448.93 L477.88,448.22 L478.84,447.51 L479.80,446.81 M500.10,432.80 L501.06,432.17 L502.03,431.55 L502.99,430.93 L503.95,430.32 L504.92,429.71 L505.88,429.10 L506.84,428.49 L507.81,427.89 L508.77,427.29 L509.73,426.70 L510.69,426.11 L511.66,425.52 L512.62,424.93 L513.58,424.35 L514.55,423.77 L515.51,423.19 L516.47,422.62 L517.44,422.05 L518.40,421.48 M538.20,410.42 L539.16,409.91 L540.13,409.40 L541.09,408.89 L542.05,408.39 L543.02,407.89 L543.98,407.39 L544.94,406.89 L545.91,406.40 L546.87,405.91 L547.83,405.42 L548.79,404.93 L549.76,404.45 L550.72,403.96 L551.68,403.48 L552.65,403.00 L553.61,402.52 L554.57,402.05 L555.54,401.58 L556.50,401.11 M576.30,391.81 L577.27,391.38 L578.23,390.94 L579.20,390.51 L580.17,390.07 L581.13,389.64 L582.10,389.21 L583.07,388.78 L584.03,388.36 L585.00,387.93 L585.97,387.51 L586.93,387.08 L587.90,386.66 L588.87,386.24 L589.83,385.82 L590.80,385.40 L591.77,384.98 L592.73,384.56 L593.70,384.15 M613.40,375.93 L614.37,375.54 L615.33,375.15 L616.29,374.76 L617.26,374.37 L618.22,373.98 L619.19,373.60 L620.15,373.21 L621.12,372.83 L622.08,372.45 L623.05,372.06 L624.01,371.68 L624.98,371.30 L625.94,370.93 L626.91,370.55 L627.88,370.17 L628.84,369.80 L629.80,369.42 L630.77,369.05 L631.73,368.68 L632.70,368.31 M651.50,361.27 L652.46,360.91 L653.43,360.56 L654.39,360.22 L655.35,359.87 L656.32,359.52 L657.28,359.17 L658.24,358.83 L659.21,358.48 L660.17,358.14 L661.13,357.80 L662.09,357.45 L663.06,357.11 L664.02,356.77 L664.98,356.43 L665.95,356.09 L666.91,355.76 L667.87,355.42 L668.84,355.08 L669.80,354.75 M690.50,347.74 L691.46,347.42 L692.43,347.11 L693.39,346.79 L694.36,346.47 L695.32,346.16 L696.29,345.85 L697.25,345.53 L698.22,345.22 L699.18,344.91 L700.15,344.60 L701.11,344.29 L702.08,343.98 L703.04,343.67 L704.01,343.36 L704.97,343.05 L705.94,342.75 L706.90,342.44 M728.00,335.91 L728.98,335.62 L729.96,335.32 L730.93,335.03 L731.91,334.73 L732.89,334.44 L733.87,334.15 L734.84,333.86 L735.82,333.57 L736.80,333.28 L737.78,332.99 L738.76,332.70 L739.73,332.41 L740.71,332.12 L741.69,331.83 L742.67,331.55 L743.64,331.26 L744.62,330.97 L745.60,330.69 M765.50,325.00 L766.48,324.73 L767.46,324.45 L768.43,324.18 L769.41,323.90 L770.39,323.63 L771.37,323.36 L772.34,323.09 L773.32,322.82 L774.30,322.55 L775.28,322.28 L776.26,322.01 L777.23,321.74 L778.21,321.47 L779.19,321.20 L780.17,320.93 L781.14,320.66 L782.12,320.40 L783.10,320.13 M803.00,314.83 L803.96,314.58 L804.93,314.33 L805.89,314.08 L806.86,313.83 L807.82,313.59 L808.79,313.34 L809.75,313.09 L810.72,312.85 L811.68,312.60 L812.65,312.36 L813.61,312.12 L814.58,311.87 L815.54,311.63 L816.51,311.39 L817.47,311.15 L818.44,310.91 L819.40,310.68 M840.10,305.78 L841.06,305.56 L842.03,305.34 L842.99,305.13 L843.95,304.92 L844.92,304.70 L845.88,304.49 L846.84,304.28 L847.81,304.07 L848.77,303.86 L849.73,303.65 L850.69,303.45 L851.66,303.24 L852.62,303.04 L853.58,302.83 L854.55,302.63 L855.51,302.43 L856.47,302.23 L857.44,302.03 L858.40,301.83 M878.00,298.08 L878.97,297.91 L879.93,297.74 L880.90,297.57 L881.87,297.40 L882.83,297.24 L883.80,297.07 L884.77,296.91 L885.73,296.75 L886.70,296.59 L887.67,296.43 L888.63,296.27 L889.60,296.12 L890.57,295.96 L891.53,295.81 L892.50,295.66 L893.47,295.51 L894.43,295.36 L895.40,295.22 L896.37,295.07 L897.33,294.93 L898.30,294.78" class="c"/>
<path d="M301.50,811.26 L302.49,809.10 L303.48,806.95 L304.46,804.82 L305.45,802.69 L306.44,800.57 L307.42,798.46 L308.41,796.37 L309.40,794.28 M319.40,773.75 L320.38,771.80 L321.36,769.86 L322.33,767.93 L323.31,766.01 L324.29,764.10 L325.27,762.20 L326.24,760.30 L327.22,758.42 L328.20,756.55 M339.40,735.78 L340.36,734.06 L341.31,732.36 L342.27,730.66 L343.22,728.97 L344.18,727.29 L345.13,725.62 L346.09,723.96 L347.04,722.30 L348.00,720.66 M360.90,699.27 L361.86,697.75 L362.82,696.23 L363.78,694.71 L364.73,693.21 L365.69,691.71 L366.65,690.23 L367.61,688.75 L368.57,687.27 L369.52,685.81 L370.48,684.35 L371.44,682.91 L372.40,681.47 M384.60,663.81 L385.56,662.47 L386.51,661.15 L387.47,659.83 L388.43,658.52 L389.39,657.21 L390.34,655.91 L391.30,654.63 L392.26,653.34 L393.21,652.07 L394.17,650.80 L395.13,649.54 L396.09,648.28 L397.04,647.04 L398.00,645.80 M415.60,624.21 L416.56,623.10 L417.52,621.99 L418.48,620.89 L419.44,619.79 L420.40,618.71 L421.36,617.62 L422.32,616.55 L423.28,615.48 L424.24,614.42 L425.20,613.36 L426.16,612.31 L427.12,611.27 L428.08,610.23 L429.04,609.19 L430.00,608.17 M447.20,590.77 L448.16,589.84 L449.13,588.93 L450.09,588.01 L451.06,587.11 L452.02,586.21 L452.99,585.31 L453.95,584.42 L454.92,583.53 L455.88,582.65 L456.85,581.78 L457.81,580.91 L458.78,580.05 L459.74,579.19 L460.71,578.33 L461.67,577.48 L462.64,576.64 L463.60,575.80 M483.00,559.92 L483.99,559.16 L484.99,558.40 L485.98,557.64 L486.98,556.89 L487.97,556.15 L488.97,555.40 L489.96,554.67 L490.96,553.93 L491.95,553.20 L492.94,552.48 L493.94,551.76 L494.93,551.04 L495.93,550.33 L496.92,549.62 L497.92,548.92 L498.91,548.22 L499.91,547.52 L500.90,546.83 M520.60,533.89 L521.57,533.29 L522.53,532.69 L523.50,532.10 L524.47,531.51 L525.43,530.92 L526.40,530.33 L527.37,529.75 L528.33,529.17 L529.30,528.60 L530.27,528.02 L531.23,527.45 L532.20,526.88 L533.17,526.32 L534.13,525.75 L535.10,525.19 L536.07,524.64 L537.03,524.08 L538.00,523.53 M557.10,513.09 L558.07,512.58 L559.03,512.08 L560.00,511.58 L560.96,511.08 L561.92,510.58 L562.89,510.08 L563.86,509.58 L564.82,509.09 L565.78,508.60 L566.75,508.11 L567.72,507.62 L568.68,507.13 L569.64,506.65 L570.61,506.16 L571.58,505.68 L572.54,505.20 L573.50,504.72 L574.47,504.24 L575.43,503.76 L576.40,503.29 M594.90,494.46 L595.87,494.01 L596.83,493.57 L597.79,493.13 L598.76,492.68 L599.72,492.24 L600.69,491.80 L601.65,491.37 L602.62,490.93 L603.58,490.49 L604.55,490.06 L605.51,489.63 L606.48,489.20 L607.44,488.77 L608.41,488.34 L609.38,487.91 L610.34,487.49 L611.30,487.06 L612.27,486.64 L613.23,486.22 L614.20,485.80 M633.40,477.69 L634.40,477.28 L635.40,476.87 L636.40,476.46 L637.40,476.06 L638.40,475.65 L639.40,475.25 L640.40,474.85 L641.40,474.45 L642.40,474.05 L643.40,473.65 L644.40,473.26 L645.40,472.86 L646.40,472.47 L647.40,472.07 L648.40,471.68 L649.40,471.29 L650.40,470.90 L651.40,470.51 L652.40,470.12 M670.80,463.19 L671.80,462.83 L672.80,462.46 L673.80,462.10 L674.80,461.73 L675.80,461.37 L676.80,461.01 L677.80,460.65 L678.80,460.29 L679.80,459.93 L680.80,459.57 L681.80,459.22 L682.80,458.86 L683.80,458.51 L684.80,458.15 L685.80,457.80 L686.80,457.45 L687.80,457.10 L688.80,456.75 M709.30,449.78 L710.27,449.46 L711.24,449.14 L712.22,448.82 L713.19,448.50 L714.16,448.18 L715.13,447.86 L716.11,447.54 L717.08,447.22 L718.05,446.91 L719.02,446.59 L719.99,446.28 L720.97,445.96 L721.94,445.65 L722.91,445.34 L723.88,445.03 L724.86,444.72 L725.83,444.41 L726.80,444.10 M746.20,438.04 L747.17,437.75 L748.15,437.45 L749.12,437.15 L750.09,436.86 L751.07,436.56 L752.04,436.26 L753.02,435.97 L753.99,435.68 L754.96,435.38 L755.94,435.09 L756.91,434.80 L757.88,434.50 L758.86,434.21 L759.83,433.92 L760.81,433.63 L761.78,433.34 L762.75,433.05 L763.73,432.76 L764.70,432.48 M784.10,426.85 L785.05,426.58 L786.01,426.31 L786.96,426.04 L787.91,425.77 L788.86,425.50 L789.82,425.23 L790.77,424.97 L791.72,424.70 L792.67,424.44 L793.63,424.17 L794.58,423.91 L795.53,423.64 L796.48,423.38 L797.44,423.12 L798.39,422.86 L799.34,422.60 L800.29,422.34 L801.25,422.08 L802.20,421.82 M821.30,416.78 L822.29,416.53 L823.29,416.27 L824.28,416.02 L825.28,415.77 L826.27,415.52 L827.27,415.27 L828.26,415.02 L829.26,414.77 L830.25,414.52 L831.25,414.28 L832.24,414.03 L833.24,413.79 L834.23,413.54 L835.23,413.30 L836.22,413.06 L837.22,412.82 L838.21,412.58 L839.21,412.34 L840.20,412.10 M858.90,407.79 L859.88,407.58 L860.87,407.36 L861.86,407.15 L862.84,406.93 L863.82,406.72 L864.81,406.51 L865.79,406.30 L866.78,406.09 L867.76,405.88 L868.75,405.67 L869.74,405.46 L870.72,405.26 L871.70,405.05 L872.69,404.85 L873.67,404.65 L874.66,404.44 L875.64,404.24 L876.63,404.04 L877.62,403.85 L878.60,403.65 L879.58,403.45 L880.57,403.26 L881.55,403.06 L882.54,402.87 L883.52,402.68 L884.51,402.49 L885.50,402.30 L886.48,402.11 L887.46,401.92 L888.45,401.74 L889.43,401.55 L890.42,401.37 L891.40,401.19 L892.39,401.01 L893.38,400.83 L894.36,400.65 L895.34,400.47 L896.33,400.29 L897.31,400.12 L898.30,399.94" class="c"/>
<path d="M301.50,1010.28 L302.44,1008.03 L303.39,1005.80 L304.33,1003.58 L305.28,1001.38 L306.22,999.18 L307.17,997.00 L308.11,994.83 L309.06,992.67 L310.00,990.52 M317.50,973.89 L318.42,971.90 L319.34,969.92 L320.25,967.96 L321.17,966.00 L322.09,964.06 L323.01,962.12 L323.93,960.20 L324.85,958.28 L325.76,956.38 L326.68,954.49 L327.60,952.61 M335.50,936.83 L336.46,934.96 L337.42,933.10 L338.38,931.26 L339.34,929.42 L340.30,927.60 L341.26,925.78 L342.22,923.98 L343.18,922.19 L344.14,920.40 L345.10,918.63 M355.40,900.24 L356.34,898.62 L357.28,897.01 L358.22,895.41 L359.15,893.82 L360.09,892.23 L361.03,890.66 L361.97,889.09 L362.91,887.54 L363.85,885.99 L364.78,884.45 L365.72,882.92 L366.66,881.40 L367.60,879.89 M379.10,862.04 L380.04,860.63 L380.98,859.23 L381.92,857.84 L382.86,856.46 L383.80,855.09 L384.74,853.72 L385.68,852.37 L386.62,851.02 L387.56,849.67 L388.50,848.34 L389.44,847.01 L390.38,845.69 L391.32,844.38 L392.26,843.07 L393.20,841.77 M408.80,821.28 L409.76,820.08 L410.73,818.89 L411.69,817.70 L412.65,816.52 L413.61,815.35 L414.57,814.18 L415.54,813.02 L416.50,811.87 L417.46,810.72 L418.43,809.58 L419.39,808.45 L420.35,807.33 L421.31,806.21 L422.27,805.09 L423.24,803.99 L424.20,802.89 M440.50,785.23 L441.45,784.26 L442.41,783.28 L443.36,782.32 L444.31,781.35 L445.26,780.40 L446.22,779.45 L447.17,778.50 L448.12,777.56 L449.08,776.63 L450.03,775.70 L450.98,774.78 L451.94,773.86 L452.89,772.95 L453.84,772.04 L454.79,771.14 L455.75,770.24 L456.70,769.35 M474.70,753.44 L475.65,752.64 L476.61,751.85 L477.56,751.06 L478.51,750.28 L479.46,749.50 L480.42,748.73 L481.37,747.96 L482.32,747.19 L483.28,746.43 L484.23,745.67 L485.18,744.92 L486.14,744.17 L487.09,743.42 L488.04,742.68 L488.99,741.94 L489.95,741.21 L490.90,740.48 M508.90,727.36 L509.87,726.69 L510.83,726.02 L511.80,725.36 L512.77,724.70 L513.73,724.04 L514.70,723.38 L515.67,722.73 L516.63,722.08 L517.60,721.44 L518.57,720.79 L519.53,720.15 L520.50,719.51 L521.47,718.88 L522.43,718.25 L523.40,717.62 L524.37,716.99 L525.33,716.36 L526.30,715.74 M544.80,704.28 L545.79,703.69 L546.78,703.10 L547.77,702.51 L548.76,701.92 L549.75,701.34 L550.74,700.75 L551.73,700.17 L552.72,699.59 L553.71,699.01 L554.70,698.43 L555.69,697.86 L556.68,697.28 L557.67,696.71 L558.66,696.14 L559.65,695.57 L560.64,695.00 L561.63,694.43 L562.62,693.87 L563.61,693.30 L564.60,692.74 M584.10,681.94 L585.06,681.42 L586.02,680.91 L586.98,680.39 L587.94,679.88 L588.91,679.36 L589.87,678.85 L590.83,678.34 L591.79,677.83 L592.75,677.33 L593.71,676.82 L594.67,676.32 L595.63,675.81 L596.59,675.31 L597.56,674.81 L598.52,674.31 L599.48,673.81 L600.44,673.31 L601.40,672.82 M621.40,662.79 L622.36,662.32 L623.33,661.85 L624.29,661.38 L625.25,660.92 L626.22,660.46 L627.18,659.99 L628.14,659.53 L629.11,659.07 L630.07,658.61 L631.03,658.15 L631.99,657.70 L632.96,657.24 L633.92,656.78 L634.88,656.33 L635.85,655.88 L636.81,655.43 L637.77,654.98 L638.74,654.53 L639.70,654.08 M659.20,645.29 L660.18,644.86 L661.16,644.43 L662.14,644.00 L663.12,643.58 L664.09,643.16 L665.07,642.73 L666.05,642.31 L667.03,641.89 L668.01,641.47 L668.99,641.05 L669.97,640.64 L670.95,640.22 L671.93,639.81 L672.91,639.39 L673.88,638.98 L674.86,638.57 L675.84,638.16 L676.82,637.75 L677.80,637.34 M697.60,629.35 L698.57,628.97 L699.54,628.59 L700.52,628.21 L701.49,627.83 L702.46,627.46 L703.43,627.08 L704.41,626.71 L705.38,626.33 L706.35,625.96 L707.32,625.59 L708.29,625.22 L709.27,624.85 L710.24,624.49 L711.21,624.12 L712.18,623.75 L713.16,623.39 L714.13,623.03 L715.10,622.67 M734.40,615.70 L735.37,615.36 L736.35,615.02 L737.32,614.68 L738.29,614.34 L739.27,614.00 L740.24,613.67 L741.22,613.33 L742.19,613.00 L743.16,612.67 L744.14,612.33 L745.11,612.00 L746.08,611.67 L747.06,611.35 L748.03,611.02 L749.01,610.69 L749.98,610.37 L750.95,610.04 L751.93,609.72 L752.90,609.40 M772.00,603.27 L772.97,602.97 L773.94,602.67 L774.91,602.37 L775.87,602.07 L776.84,601.77 L777.81,601.48 L778.78,601.18 L779.75,600.89 L780.72,600.59 L781.68,600.30 L782.65,600.01 L783.62,599.72 L784.59,599.43 L785.56,599.14 L786.53,598.85 L787.49,598.57 L788.46,598.28 L789.43,597.99 L790.40,597.71 M809.80,592.20 L810.76,591.94 L811.73,591.67 L812.69,591.41 L813.65,591.15 L814.62,590.89 L815.58,590.63 L816.54,590.37 L817.51,590.11 L818.47,589.85 L819.43,589.60 L820.39,589.34 L821.36,589.09 L822.32,588.83 L823.28,588.58 L824.25,588.33 L825.21,588.07 L826.17,587.82 L827.14,587.57 L828.10,587.32 M847.10,582.57 L848.08,582.33 L849.07,582.09 L850.05,581.86 L851.04,581.62 L852.02,581.39 L853.01,581.15 L853.99,580.92 L854.97,580.69 L855.96,580.46 L856.94,580.22 L857.93,579.99 L858.91,579.77 L859.89,579.54 L860.88,579.31 L861.86,579.08 L862.85,578.86 L863.83,578.63 L864.82,578.41 L865.80,578.18 M879.70,575.10 L880.67,574.89 L881.64,574.68 L882.61,574.48 L883.57,574.27 L884.54,574.06 L885.51,573.86 L886.48,573.65 L887.45,573.45 L888.42,573.24 L889.38,573.04 L890.35,572.84 L891.32,572.64 L892.29,572.44 L893.26,572.24 L894.23,572.04 L895.19,571.84 L896.16,571.64 L897.13,571.44 L898.10,571.25" class="c"/>
<path class="thin" d="M862.20,272.40 L835.72,294.16"/><path class="ah" d="M819.50,307.50 L832.29,289.99 L839.15,298.34 Z"/>
<path class="thin" d="M862.20,272.40 L863.62,323.51"/><path class="ah" d="M864.20,344.50 L858.22,323.66 L869.02,323.36 Z"/>
<path class="thin" d="M869.00,482.60 L849.92,428.79"/><path class="ah" d="M842.90,409.00 L855.01,426.99 L844.83,430.60 Z"/>
<path class="thin" d="M869.00,482.60 L838.18,469.31"/><path class="ah" d="M818.90,461.00 L840.32,464.36 L836.05,474.27 Z"/>
<path class="thin" d="M867.80,667.30 L850.58,604.75"/><path class="ah" d="M845.00,584.50 L855.78,603.31 L845.37,606.18 Z"/>
<path class="thin" d="M867.80,667.30 L818.78,642.10"/><path class="ah" d="M800.10,632.50 L821.25,637.30 L816.31,646.90 Z"/>
<text x="763.71" y="266.20" font-size="31.10" font-style="italic" font-weight="bold" textLength="28.23" lengthAdjust="spacingAndGlyphs">ṁ</text><text x="798.31" y="266.20" font-size="31.10" font-weight="bold" textLength="27.34" lengthAdjust="spacingAndGlyphs" stroke="none">=</text><text x="829.81" y="266.20" font-size="31.10" font-weight="bold" textLength="82.39" lengthAdjust="spacingAndGlyphs">0.020</text><text x="914.00" y="266.20" font-size="31.10" font-style="italic" font-weight="bold" textLength="29.27" lengthAdjust="spacingAndGlyphs">kg</text><text x="955.40" y="266.20" font-size="31.10" font-style="italic" font-weight="bold" textLength="5.49" lengthAdjust="spacingAndGlyphs">/</text><text x="969.61" y="266.20" font-size="31.10" font-style="italic" font-weight="bold" textLength="15.08" lengthAdjust="spacingAndGlyphs">s</text>
<text x="770.63" y="508.80" font-size="29.70" font-style="italic" font-weight="bold" textLength="27.46" lengthAdjust="spacingAndGlyphs">ṁ</text><text x="804.44" y="508.80" font-size="29.70" font-weight="bold" textLength="24.76" lengthAdjust="spacingAndGlyphs" stroke="none">=</text><text x="834.52" y="508.80" font-size="29.70" font-weight="bold" textLength="75.51" lengthAdjust="spacingAndGlyphs">0.015</text><text x="911.64" y="508.80" font-size="29.70" font-style="italic" font-weight="bold" textLength="33.96" lengthAdjust="spacingAndGlyphs">kg</text><text x="957.05" y="508.80" font-size="29.70" font-style="italic" font-weight="bold" textLength="5.29" lengthAdjust="spacingAndGlyphs">/</text><text x="969.58" y="508.80" font-size="29.70" font-style="italic" font-weight="bold" textLength="13.27" lengthAdjust="spacingAndGlyphs">s</text>
<text x="772.21" y="698.20" font-size="33.10" font-style="italic" font-weight="bold" textLength="28.23" lengthAdjust="spacingAndGlyphs">ṁ</text><text x="806.39" y="698.20" font-size="33.10" font-weight="bold" textLength="27.58" lengthAdjust="spacingAndGlyphs" stroke="none">=</text><text x="833.24" y="698.20" font-size="33.10" font-weight="bold" textLength="80.22" lengthAdjust="spacingAndGlyphs">0.010</text><text x="911.60" y="698.20" font-size="33.10" font-style="italic" font-weight="bold" textLength="36.36" lengthAdjust="spacingAndGlyphs">kg</text><text x="950.34" y="698.20" font-size="33.10" font-style="italic" font-weight="bold" textLength="5.22" lengthAdjust="spacingAndGlyphs">/</text><text x="965.13" y="698.20" font-size="33.10" font-style="italic" font-weight="bold" textLength="16.80" lengthAdjust="spacingAndGlyphs">s</text>
</svg>
</body></html>
